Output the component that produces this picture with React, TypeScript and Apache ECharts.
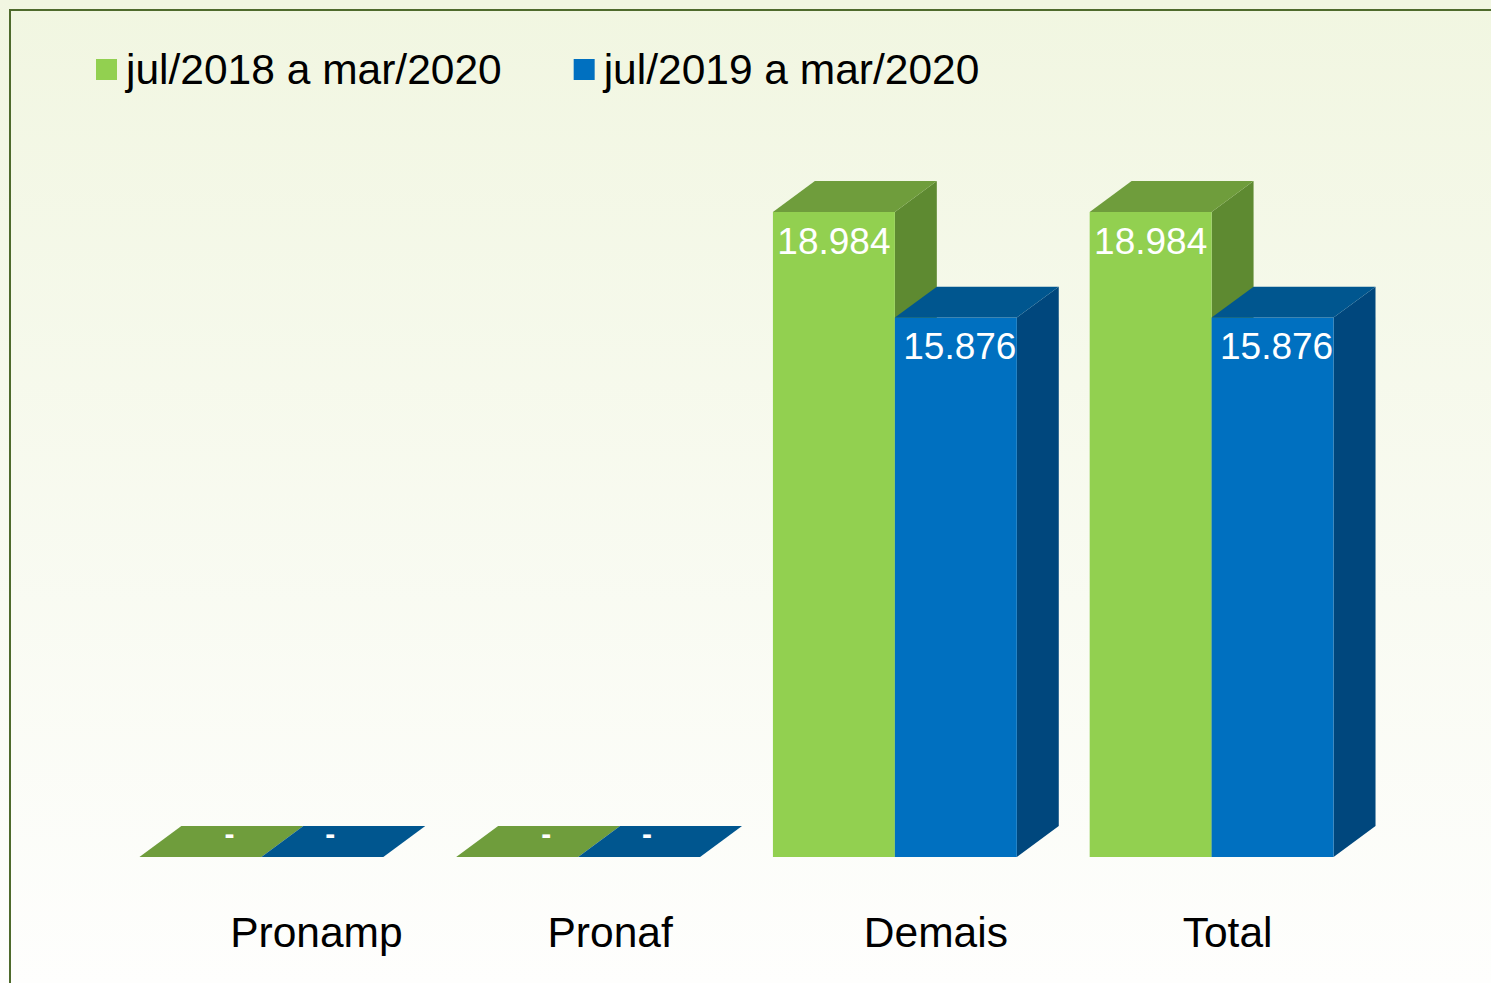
import React, { useEffect, useRef } from 'react';
import * as echarts from 'echarts';

const categories = ['Pronamp', 'Pronaf', 'Demais', 'Total'];
const seriesNames = ['jul/2018 a mar/2020', 'jul/2019 a mar/2020'];
const values2018 = [0, 0, 18984, 18984];
const values2019 = [0, 0, 15876, 15876];
const yMax = 20000;

const palettes = [
  { front: '#92d050', top: '#6f9d3c', side: '#5e8a31' },
  { front: '#0070c0', top: '#00568f', side: '#00477d' },
];

// per-category label shift (rich padding), style only
const labelShift = [110, 64, 82, 32];
// per-series horizontal nudge of labels (style only)
const dashShift = [8, -13];
const valueShift = [0, 4];

const FONT = '"Liberation Sans", Arial, Helvetica, sans-serif';

function fmt(v: number): string {
  if (v === 0) return '-';
  return String(v).replace(/\B(?=(\d{3})+(?!\d))/g, '.');
}

const makeRender = (idx: number) => (params: any, api: any) => {
  const ci = api.value(0);
  const v = api.value(1);
  const band = api.size([1, 0])[0];
  const w = band * 0.385;
  const dx = w * 0.344;
  const dy = w * 0.254;
  const base = api.coord([ci, 0]);
  const top = api.coord([ci, v]);
  const x0 = idx === 0 ? base[0] - w : base[0];
  const x1 = x0 + w;
  const yb = base[1];
  const yt = top[1];
  const pal = palettes[idx];
  const children: any[] = [];
  if (v > 0) {
    children.push({
      type: 'polygon',
      shape: { points: [[x1, yt], [x1 + dx, yt - dy], [x1 + dx, yb - dy], [x1, yb]] },
      style: { fill: pal.side },
    });
    children.push({
      type: 'rect',
      shape: { x: x0, y: yt, width: w, height: yb - yt },
      style: { fill: pal.front },
    });
  }
  children.push({
    type: 'polygon',
    shape: { points: [[x0, yt], [x0 + dx, yt - dy], [x1 + dx, yt - dy], [x1, yt]] },
    style: { fill: pal.top },
  });
  if (v > 0) {
    children.push({
      type: 'text',
      style: {
        text: fmt(v),
        x: (x0 + x1) / 2 + valueShift[idx],
        y: yt + 29,
        align: 'center',
        verticalAlign: 'middle',
        fill: '#ffffff',
        fontSize: 37,
        fontFamily: FONT,
      },
    });
  } else {
    children.push({
      type: 'text',
      style: {
        text: fmt(v),
        x: (x0 + x1) / 2 + dx / 2 + dashShift[idx],
        y: yt - dy / 2 - 8,
        align: 'center',
        verticalAlign: 'middle',
        fill: '#ffffff',
        fontSize: 30,
        fontWeight: 'bold',
        fontFamily: FONT,
      },
    });
  }
  return { type: 'group', children };
};

export default function App() {
  const ref = useRef<HTMLDivElement>(null);
  useEffect(() => {
    if (!ref.current) return;
    const chart = echarts.init(ref.current, null, { renderer: 'svg' });
    const rich: any = {};
    categories.forEach((c, i) => {
      rich['c' + i] = {
        fontSize: 42.5,
        fontFamily: FONT,
        color: '#000',
        padding: [0, 0, 0, labelShift[i]],
      };
    });
    chart.setOption({
      animation: false,
      backgroundColor: new echarts.graphic.LinearGradient(0, 0, 0, 1, [
        { offset: 0, color: '#f1f6e1' },
        { offset: 1, color: '#fefefd' },
      ]),
      legend: {
        data: seriesNames,
        left: 96,
        top: 48,
        padding: 0,
        icon: 'rect',
        itemWidth: 21,
        itemHeight: 21,
        itemGap: 72,
        textStyle: { fontSize: 42.5, color: '#000', fontFamily: FONT, padding: [0, 0, 0, 4] },
      },
      grid: { left: 103, right: 121, top: 177.5, bottom: 126, containLabel: false },
      xAxis: {
        type: 'category',
        data: categories,
        axisLine: { show: false },
        axisTick: { show: false },
        splitLine: { show: false },
        axisLabel: {
          margin: 54,
          interval: 0,
          formatter: (val: string) => {
            const i = categories.indexOf(val);
            return '{c' + i + '|' + val + '}';
          },
          rich,
        },
      },
      yAxis: {
        type: 'value',
        min: 0,
        max: yMax,
        show: false,
        splitLine: { show: false },
      },
      graphic: [
        {
          type: 'rect',
          shape: { x: 10, y: 10, width: 1600, height: 1100 },
          style: { fill: 'none', stroke: '#4e6a2c', lineWidth: 2 },
          silent: true,
        },
      ],
      series: [
        {
          name: seriesNames[0],
          type: 'custom',
          renderItem: makeRender(0),
          itemStyle: { color: palettes[0].front },
          encode: { x: 0, y: 1 },
          data: values2018.map((v, i) => [i, v]),
        },
        {
          name: seriesNames[1],
          type: 'custom',
          renderItem: makeRender(1),
          itemStyle: { color: palettes[1].front },
          encode: { x: 0, y: 1 },
          data: values2019.map((v, i) => [i, v]),
        },
      ],
    });
    return () => chart.dispose();
  }, []);
  return (
    <div
      ref={ref}
      style={{ position: 'absolute', left: 0, top: 0, width: 1491, height: 983 }}
    />
  );
}
